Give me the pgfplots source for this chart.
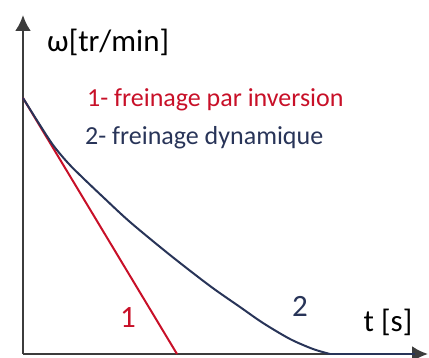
\documentclass[border=0pt]{standalone}
\usepackage{pgfplots}
\pgfplotsset{compat=1.18}
\usetikzlibrary{arrows.meta}
\usepackage{fontspec}
\setmainfont{Carlito}
\definecolor{brakered}{RGB}{200,16,40}
\definecolor{brakeblue}{RGB}{40,52,88}
\definecolor{axisgray}{RGB}{60,60,60}

\begin{document}
\begin{tikzpicture}
\begin{axis}[
  scale only axis, width=405pt, height=339pt,
  xmin=0, xmax=405, ymin=0, ymax=339,
  axis lines=left,
  axis line style={line width=2.6pt, draw=axisgray, -{Latex[length=16pt,width=16pt]}},
  xtick=\empty, ytick=\empty,
  clip=false,
]
% 1: plugging (reverse-current) braking, linear decay
\addplot[brakered, line width=2pt] coordinates {(0,256) (154,0)};
% 2: dynamic braking, decaying curve that settles on the time axis
\addplot[brakeblue, line width=2pt, smooth] coordinates {
  (0,256) (15,232) (30,209) (45,191) (60,176) (80,157) (107,132)
  (147,99) (187,68) (217,47) (240,31) (267,15) (290,5) (307,0)};
\addplot[brakeblue, line width=2pt] coordinates {(307,0) (392,0)};

\node[anchor=base west, inner sep=0pt, font=\fontsize{31}{36}\selectfont] at (axis cs:24,302) {ω[tr/min]};
\node[anchor=base west, inner sep=0pt, text=brakered, font=\fontsize{26}{31}\selectfont] at (axis cs:64,247) {1- freinage par inversion};
\node[anchor=base west, inner sep=0pt, text=brakeblue, font=\fontsize{26}{31}\selectfont] at (axis cs:62,209) {2- freinage dynamique};
\node[anchor=base, inner sep=0pt, text=brakered, font=\fontsize{31}{36}\selectfont] at (axis cs:105,26) {1};
\node[anchor=base, inner sep=0pt, text=brakeblue, font=\fontsize{31}{36}\selectfont] at (axis cs:277,37) {2};
\node[anchor=base, inner sep=0pt, font=\fontsize{31}{36}\selectfont] at (axis cs:365,22) {t [s]};
\end{axis}
\pgfresetboundingbox
\path[use as bounding box] (-23pt,-4pt) rectangle (406pt,354pt);
\end{tikzpicture}
\end{document}
